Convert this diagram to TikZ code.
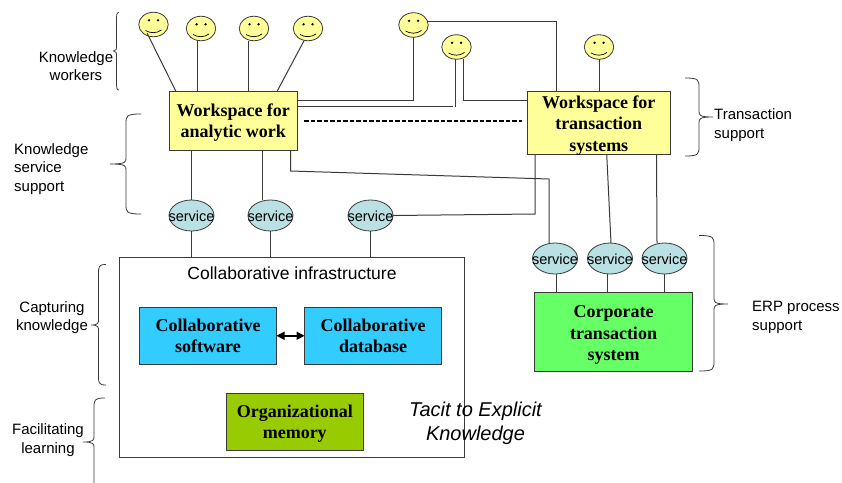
\documentclass[tikz,border=0pt]{standalone}
\usepackage{fontspec}
\setmainfont{Liberation Serif}
\setsansfont{Liberation Sans}
\usetikzlibrary{shapes.geometric,arrows.meta,calc}
\definecolor{wsyellow}{HTML}{FFFF99}
\definecolor{svcteal}{HTML}{B9E0E2}
\definecolor{colblue}{HTML}{33CCFF}
\definecolor{orgolive}{HTML}{99CC00}
\definecolor{corpgreen}{HTML}{66FF66}
\definecolor{lineink}{HTML}{3A3A3A}
\newcommand{\firstline}{\rule{0pt}{16.5pt}}
\newcommand{\svctext}{\makebox[0pt]{\smash{\raisebox{-6pt}{service}}}}
\tikzset{
  boxbase/.style={draw=lineink,line width=0.9pt,inner sep=0pt,outer sep=0pt,align=center,
    font=\fontsize{18}{21.5}\selectfont\rmfamily\bfseries,anchor=north west},
  smileyface/.style={ellipse,draw=lineink,line width=0.8pt,fill=wsyellow,inner sep=0pt,outer sep=0pt,
    minimum width=29.5pt,minimum height=24.5pt},
  svc/.style={ellipse,draw=lineink,line width=0.8pt,fill=svcteal,inner sep=0pt,outer sep=0pt,
    minimum width=45pt,minimum height=31pt,font=\fontsize{14.5}{16}\selectfont\sffamily},
  conn/.style={draw=lineink,line width=1pt},
  lbl/.style={font=\fontsize{15}{18.5}\selectfont\sffamily,inner sep=0pt},
  brc/.style={draw=lineink,line width=0.8pt},
  feat/.style={draw=black,line width=0.7pt}
}
% name, x, y
\newcommand{\smileyat}[3]{%
  \node[smileyface] (#1) at (#2,#3) {};
  \fill[black] ($(#1)+(-4.5,-4.2)$) circle (1.3pt) ($(#1)+(4.5,-4.2)$) circle (1.3pt);
  \draw[feat] ($(#1)+(-8,6)$) .. controls ($(#1)+(-3,9)$) and ($(#1)+(3,9)$) .. ($(#1)+(8,5.5)$);
}
% open end x, spine x, tip x, top y, tip y, bottom y
\newcommand{\bracket}[6]{%
  \draw[brc] (#1,#4) .. controls (#2,#4) and (#2,#4+2) .. (#2,#4+10)
    -- (#2,#5-6) .. controls (#2,#5-2) and (#2,#5) .. (#3,#5)
    .. controls (#2,#5) and (#2,#5+2) .. (#2,#5+6)
    -- (#2,#6-10) .. controls (#2,#6-2) and (#2,#6) .. (#1,#6);
}
\begin{document}
\begin{tikzpicture}[x=1pt,y=-1pt]
\useasboundingbox (0,0) rectangle (842,482);
\clip (0,0) rectangle (842,482);

% boxes
\node[boxbase,fill=wsyellow,minimum width=128.5pt,minimum height=58.5pt] (wsa) at (169,91.5) {\firstline Workspace for\\analytic work};
\node[boxbase,fill=wsyellow,minimum width=142.5pt,minimum height=58.5pt] (wst) at (527.5,91.5) {\firstline Workspace for\\transaction\\systems};
\node[draw=lineink,line width=0.9pt,fill=white,anchor=north west,inner sep=0pt,outer sep=0pt,minimum width=345.5pt,minimum height=200pt] (infra) at (119,257.5) {};
\node[boxbase,fill=colblue,minimum width=137pt,minimum height=56.5pt] (csw) at (139.5,307.5) {Collaborative\\software};
\node[boxbase,fill=colblue,minimum width=137pt,minimum height=56.5pt] (cdb) at (304.5,307.5) {Collaborative\\database};
\node[boxbase,fill=orgolive,minimum width=136.5pt,minimum height=57pt] (org) at (226.5,393) {\firstline Organizational\\memory};
\node[boxbase,fill=corpgreen,minimum width=158pt,minimum height=79pt] (corp) at (534.5,292.5) {\rule{0pt}{18pt}Corporate\\transaction\\system};

% faces
\smileyat{f1}{153.5}{24.5}
\smileyat{f2}{201}{28.5}
\smileyat{f3}{254}{28.5}
\smileyat{f4}{308}{28.5}
\smileyat{f5}{413.5}{25}
\smileyat{f6}{456.5}{47}
\smileyat{f7}{599}{47}

% services
\node[svc] (s1) at (191.5,215.5) {\svctext};
\node[svc] (s2) at (270.5,215.5) {\svctext};
\node[svc] (s3) at (370.5,215.5) {\svctext};
\node[svc] (s4) at (555,258.5) {\svctext};
\node[svc] (s5) at (610,258.5) {\svctext};
\node[svc] (s6) at (664.5,258.5) {\svctext};

% connectors: faces to workspaces
\draw[conn] (f1.south west)++(4,0) -- ([xshift=7pt]wsa.north west);
\draw[conn] ([xshift=-3.3pt]f2.south) -- ([xshift=-3.3pt]f2.south |- wsa.north);
\draw[conn] ([xshift=-6pt]f3.south) -- ([xshift=-6pt]f3.south |- wsa.north);
\draw[conn] ([xshift=-4pt]f4.south) -- ([xshift=-20.5pt]wsa.north east);
\draw[conn] (f5.south) -- (f5.south |- 0,100) -- (wsa.east |- 0,100);
\coordinate (rail) at (453,106.5);
\draw[conn] (rail) -- (wsa.east |- rail);
\draw[conn] ([xshift=-0.7pt]f6.south) -- ([xshift=-0.7pt]f6.south |- rail);
\draw[conn] ([xshift=6.8pt]f6.south) -- ([xshift=6.8pt]f6.south |- 0,100) -- (wst.west |- 0,100);
\draw[conn] (f5.east |- 0,21) -- (556,21) -- (556,21 |- wst.north);
\draw[conn] (f7.south) -- (f7.south |- wst.north);
\draw[black,line width=2pt,dash pattern=on 4.5pt off 2pt] (304,120.5) -- (522,120.5);

% workspaces to services
\draw[conn] (s1.north) -- (s1.north |- wsa.south);
\draw[conn] ([xshift=-8.5pt]s2.north) -- ([xshift=-8.5pt]s2.north |- wsa.south);
\draw[conn] ([xshift=-7pt]wsa.south east) -- (290.5,171) -- (549,179) -- ([xshift=-6pt]s4.north);
\draw[conn] ([xshift=7.5pt]wst.south west) -- (535,214) -- (s3.east);
\draw[conn] ([xshift=8pt]wst.south) -- ([xshift=1pt]s5.north);
\draw[conn] ([xshift=-13.5pt]wst.south east) -- ([xshift=-7.5pt]s6.north);

% services to systems
\draw[conn] (s1.south) -- (s1.south |- infra.north);
\draw[conn] (s2.south) -- (s2.south |- infra.north);
\draw[conn] (s3.south) -- (s3.south |- infra.north);
\draw[conn] ([xshift=1.5pt]s4.south) -- ([xshift=1.5pt]s4.south |- corp.north);
\draw[conn] ([xshift=-3pt]s5.south) -- ([xshift=-3pt]s5.south |- corp.north);
\draw[conn] (s6.south) -- (s6.south |- corp.north);

% arrow
\draw[line width=1.5pt,black,{Triangle[length=8pt,width=8pt]}-{Triangle[length=8pt,width=8pt]}] (csw.east) -- (cdb.west);

% texts
\node[font=\fontsize{17.5}{20}\selectfont\sffamily,inner sep=0pt] (infralabel) at (292,273) {Collaborative infrastructure};
\node[font=\fontsize{20}{24}\selectfont\sffamily\itshape,align=center,inner sep=0pt] (tacit) at (475.5,423.5) {Tacit to Explicit\\Knowledge};
\node[lbl,align=center] (l1) at (76,66) {Knowledge\\workers};
\node[lbl,align=left,anchor=west] (l2) at (14,169) {Knowledge\\service\\support};
\node[lbl,align=left,anchor=west] (l3) at (714,125) {Transaction\\support};
\node[lbl,align=center] (l4) at (52,317.5) {Capturing\\knowledge};
\node[lbl,align=center] (l5) at (48,440) {Facilitating\\learning};
\node[lbl,align=left,anchor=west] (l6) at (752,317.5) {ERP process\\support};

% braces
\bracket{119}{116.5}{113.5}{12.5}{51}{90}
\bracket{141}{126}{110}{114}{164}{214}
\bracket{106}{98.5}{91}{264.5}{325}{385}
\bracket{105}{94}{83}{398}{442}{492}
% right-hand braces open to the left
\bracket{685}{699}{713}{78}{117}{156}
\bracket{699}{714}{728}{235.5}{304}{371}
\end{tikzpicture}
\end{document}
